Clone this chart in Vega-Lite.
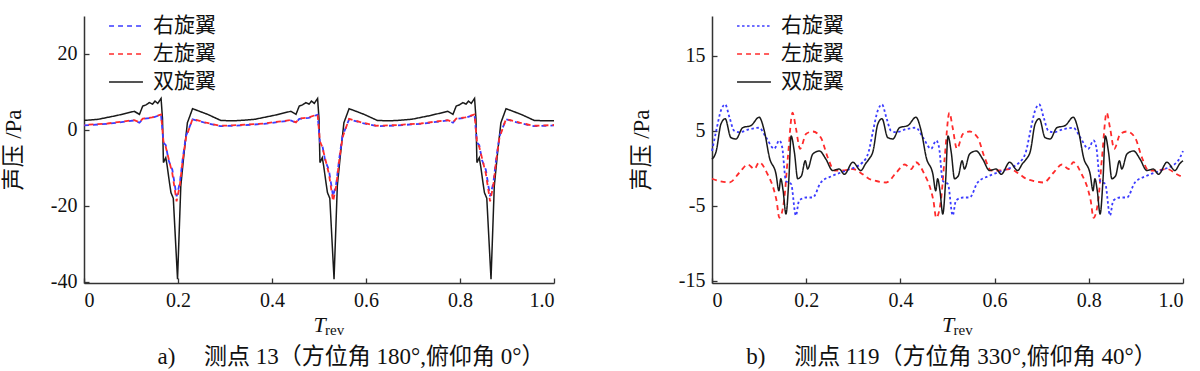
{
"$schema":"https://vega.github.io/schema/vega-lite/v6.json",
"background":"white",
"padding":{"left":2,"top":8,"right":5,"bottom":0},
"bounds":"flush",
"spacing":158,
"config":{
 "view":{"stroke":null},
 "axis":{"grid":false,"domainColor":"#333","domainWidth":1.5,"tickColor":"#333","tickSize":-5,"tickWidth":1.3,"labelFont":"Liberation Serif","labelFontSize":20,"labelColor":"#111","labelPadding":12,"titleFont":"Liberation Serif, Noto Sans CJK SC","titleFontSize":20,"titleFontWeight":"normal","titleColor":"#111"},
 "axisY":{"titlePadding":25,"titleFontSize":23},
 "axisX":{"titlePadding":4},
 "legend":{"orient":"none","legendX":24,"legendY":-8,"labelFont":"Noto Sans CJK SC","labelFontSize":21,"labelColor":"#111","symbolType":"stroke","symbolSize":1150,"symbolStrokeWidth":1.6,"rowPadding":-9,"labelOffset":9},
 "title":{"font":"Liberation Serif, Noto Sans CJK SC","fontSize":23,"fontWeight":"normal","color":"#111","orient":"bottom","offset":8}
},
"datasets":{
"a":[
{"s":"双旋翼","t":0,"p":2.5},{"s":"双旋翼","t":0.03,"p":2.8},{"s":"双旋翼","t":0.07,"p":3.8},{"s":"双旋翼","t":0.107,"p":4.9},{"s":"双旋翼","t":0.118,"p":4.1},{"s":"双旋翼","t":0.125,"p":6.3},{"s":"双旋翼","t":0.132,"p":6.6},{"s":"双旋翼","t":0.139,"p":7.2},{"s":"双旋翼","t":0.146,"p":6.8},{"s":"双旋翼","t":0.151,"p":7.6},{"s":"双旋翼","t":0.157,"p":7.0},{"s":"双旋翼","t":0.164,"p":8.3},{"s":"双旋翼","t":0.167,"p":3.0},{"s":"双旋翼","t":0.169,"p":-8.6},{"s":"双旋翼","t":0.174,"p":-7.3},{"s":"双旋翼","t":0.177,"p":-9.5},{"s":"双旋翼","t":0.182,"p":-14.0},{"s":"双旋翼","t":0.185,"p":-16.5},{"s":"双旋翼","t":0.19,"p":-18.0},{"s":"双旋翼","t":0.199,"p":-39.3},{"s":"双旋翼","t":0.206,"p":-14.7},{"s":"双旋翼","t":0.213,"p":-6.0},{"s":"双旋翼","t":0.22,"p":1.9},{"s":"双旋翼","t":0.231,"p":5.6},{"s":"双旋翼","t":0.263,"p":4.1},{"s":"双旋翼","t":0.291,"p":2.5},{"s":"双旋翼","t":0.315,"p":2.4},
{"s":"双旋翼","t":0.333,"p":2.5},{"s":"双旋翼","t":0.363,"p":2.8},{"s":"双旋翼","t":0.403,"p":3.8},{"s":"双旋翼","t":0.44,"p":4.9},{"s":"双旋翼","t":0.451,"p":4.1},{"s":"双旋翼","t":0.458,"p":6.3},{"s":"双旋翼","t":0.465,"p":6.6},{"s":"双旋翼","t":0.472,"p":7.2},{"s":"双旋翼","t":0.479,"p":6.8},{"s":"双旋翼","t":0.484,"p":7.6},{"s":"双旋翼","t":0.49,"p":7.0},{"s":"双旋翼","t":0.497,"p":8.3},{"s":"双旋翼","t":0.5,"p":3.0},{"s":"双旋翼","t":0.502,"p":-8.6},{"s":"双旋翼","t":0.507,"p":-7.3},{"s":"双旋翼","t":0.51,"p":-9.5},{"s":"双旋翼","t":0.515,"p":-14.0},{"s":"双旋翼","t":0.518,"p":-16.5},{"s":"双旋翼","t":0.523,"p":-18.0},{"s":"双旋翼","t":0.532,"p":-39.3},{"s":"双旋翼","t":0.539,"p":-14.7},{"s":"双旋翼","t":0.546,"p":-6.0},{"s":"双旋翼","t":0.553,"p":1.9},{"s":"双旋翼","t":0.564,"p":5.6},{"s":"双旋翼","t":0.596,"p":4.1},{"s":"双旋翼","t":0.624,"p":2.5},{"s":"双旋翼","t":0.648,"p":2.4},
{"s":"双旋翼","t":0.667,"p":2.5},{"s":"双旋翼","t":0.697,"p":2.8},{"s":"双旋翼","t":0.737,"p":3.8},{"s":"双旋翼","t":0.774,"p":4.9},{"s":"双旋翼","t":0.785,"p":4.1},{"s":"双旋翼","t":0.792,"p":6.3},{"s":"双旋翼","t":0.799,"p":6.6},{"s":"双旋翼","t":0.806,"p":7.2},{"s":"双旋翼","t":0.813,"p":6.8},{"s":"双旋翼","t":0.818,"p":7.6},{"s":"双旋翼","t":0.824,"p":7.0},{"s":"双旋翼","t":0.831,"p":8.3},{"s":"双旋翼","t":0.834,"p":3.0},{"s":"双旋翼","t":0.836,"p":-8.6},{"s":"双旋翼","t":0.841,"p":-7.3},{"s":"双旋翼","t":0.844,"p":-9.5},{"s":"双旋翼","t":0.849,"p":-14.0},{"s":"双旋翼","t":0.852,"p":-16.5},{"s":"双旋翼","t":0.857,"p":-18.0},{"s":"双旋翼","t":0.866,"p":-39.3},{"s":"双旋翼","t":0.873,"p":-14.7},{"s":"双旋翼","t":0.88,"p":-6.0},{"s":"双旋翼","t":0.887,"p":1.9},{"s":"双旋翼","t":0.898,"p":5.6},{"s":"双旋翼","t":0.93,"p":4.1},{"s":"双旋翼","t":0.958,"p":2.5},{"s":"双旋翼","t":0.982,"p":2.4},{"s":"双旋翼","t":1.0,"p":2.4},
{"s":"右旋翼","t":0,"p":1.2},{"s":"右旋翼","t":0.05,"p":1.6},{"s":"右旋翼","t":0.107,"p":2.5},{"s":"右旋翼","t":0.118,"p":1.9},{"s":"右旋翼","t":0.125,"p":2.9},{"s":"右旋翼","t":0.145,"p":3.2},{"s":"右旋翼","t":0.164,"p":4.0},{"s":"右旋翼","t":0.169,"p":-3.3},{"s":"右旋翼","t":0.174,"p":-4.0},{"s":"右旋翼","t":0.18,"p":-8.0},{"s":"右旋翼","t":0.188,"p":-10.5},{"s":"右旋翼","t":0.197,"p":-17.5},{"s":"右旋翼","t":0.204,"p":-13.9},{"s":"右旋翼","t":0.21,"p":-7.6},{"s":"右旋翼","t":0.217,"p":-1.6},{"s":"右旋翼","t":0.231,"p":2.8},{"s":"右旋翼","t":0.26,"p":1.8},{"s":"右旋翼","t":0.29,"p":1.0},{"s":"右旋翼","t":0.315,"p":1.1},
{"s":"右旋翼","t":0.333,"p":1.2},{"s":"右旋翼","t":0.383,"p":1.6},{"s":"右旋翼","t":0.44,"p":2.5},{"s":"右旋翼","t":0.451,"p":1.9},{"s":"右旋翼","t":0.458,"p":2.9},{"s":"右旋翼","t":0.478,"p":3.2},{"s":"右旋翼","t":0.497,"p":4.0},{"s":"右旋翼","t":0.502,"p":-3.3},{"s":"右旋翼","t":0.507,"p":-4.0},{"s":"右旋翼","t":0.513,"p":-8.0},{"s":"右旋翼","t":0.521,"p":-10.5},{"s":"右旋翼","t":0.53,"p":-17.5},{"s":"右旋翼","t":0.537,"p":-13.9},{"s":"右旋翼","t":0.543,"p":-7.6},{"s":"右旋翼","t":0.55,"p":-1.6},{"s":"右旋翼","t":0.564,"p":2.8},{"s":"右旋翼","t":0.593,"p":1.8},{"s":"右旋翼","t":0.623,"p":1.0},{"s":"右旋翼","t":0.648,"p":1.1},
{"s":"右旋翼","t":0.667,"p":1.2},{"s":"右旋翼","t":0.717,"p":1.6},{"s":"右旋翼","t":0.774,"p":2.5},{"s":"右旋翼","t":0.785,"p":1.9},{"s":"右旋翼","t":0.792,"p":2.9},{"s":"右旋翼","t":0.812,"p":3.2},{"s":"右旋翼","t":0.831,"p":4.0},{"s":"右旋翼","t":0.836,"p":-3.3},{"s":"右旋翼","t":0.841,"p":-4.0},{"s":"右旋翼","t":0.847,"p":-8.0},{"s":"右旋翼","t":0.855,"p":-10.5},{"s":"右旋翼","t":0.864,"p":-17.5},{"s":"右旋翼","t":0.871,"p":-13.9},{"s":"右旋翼","t":0.877,"p":-7.6},{"s":"右旋翼","t":0.884,"p":-1.6},{"s":"右旋翼","t":0.898,"p":2.8},{"s":"右旋翼","t":0.927,"p":1.8},{"s":"右旋翼","t":0.957,"p":1.0},{"s":"右旋翼","t":0.982,"p":1.1},{"s":"右旋翼","t":1.0,"p":1.2},
{"s":"左旋翼","t":0,"p":1.3},{"s":"左旋翼","t":0.05,"p":1.7},{"s":"左旋翼","t":0.107,"p":2.6},{"s":"左旋翼","t":0.118,"p":2.0},{"s":"左旋翼","t":0.125,"p":3.0},{"s":"左旋翼","t":0.145,"p":3.3},{"s":"左旋翼","t":0.164,"p":4.1},{"s":"左旋翼","t":0.169,"p":-3.0},{"s":"左旋翼","t":0.174,"p":-4.5},{"s":"左旋翼","t":0.18,"p":-7.5},{"s":"左旋翼","t":0.188,"p":-11.5},{"s":"左旋翼","t":0.197,"p":-18.8},{"s":"左旋翼","t":0.204,"p":-14.5},{"s":"左旋翼","t":0.21,"p":-8.0},{"s":"左旋翼","t":0.217,"p":-2.0},{"s":"左旋翼","t":0.231,"p":2.9},{"s":"左旋翼","t":0.26,"p":1.9},{"s":"左旋翼","t":0.29,"p":1.1},{"s":"左旋翼","t":0.315,"p":1.2},
{"s":"左旋翼","t":0.333,"p":1.3},{"s":"左旋翼","t":0.383,"p":1.7},{"s":"左旋翼","t":0.44,"p":2.6},{"s":"左旋翼","t":0.451,"p":2.0},{"s":"左旋翼","t":0.458,"p":3.0},{"s":"左旋翼","t":0.478,"p":3.3},{"s":"左旋翼","t":0.497,"p":4.1},{"s":"左旋翼","t":0.502,"p":-3.0},{"s":"左旋翼","t":0.507,"p":-4.5},{"s":"左旋翼","t":0.513,"p":-7.5},{"s":"左旋翼","t":0.521,"p":-11.5},{"s":"左旋翼","t":0.53,"p":-18.8},{"s":"左旋翼","t":0.537,"p":-14.5},{"s":"左旋翼","t":0.543,"p":-8.0},{"s":"左旋翼","t":0.55,"p":-2.0},{"s":"左旋翼","t":0.564,"p":2.9},{"s":"左旋翼","t":0.593,"p":1.9},{"s":"左旋翼","t":0.623,"p":1.1},{"s":"左旋翼","t":0.648,"p":1.2},
{"s":"左旋翼","t":0.667,"p":1.3},{"s":"左旋翼","t":0.717,"p":1.7},{"s":"左旋翼","t":0.774,"p":2.6},{"s":"左旋翼","t":0.785,"p":2.0},{"s":"左旋翼","t":0.792,"p":3.0},{"s":"左旋翼","t":0.812,"p":3.3},{"s":"左旋翼","t":0.831,"p":4.1},{"s":"左旋翼","t":0.836,"p":-3.0},{"s":"左旋翼","t":0.841,"p":-4.5},{"s":"左旋翼","t":0.847,"p":-7.5},{"s":"左旋翼","t":0.855,"p":-11.5},{"s":"左旋翼","t":0.864,"p":-18.8},{"s":"左旋翼","t":0.871,"p":-14.5},{"s":"左旋翼","t":0.877,"p":-8.0},{"s":"左旋翼","t":0.884,"p":-2.0},{"s":"左旋翼","t":0.898,"p":2.9},{"s":"左旋翼","t":0.927,"p":1.9},{"s":"左旋翼","t":0.957,"p":1.1},{"s":"左旋翼","t":0.982,"p":1.2},{"s":"左旋翼","t":1.0,"p":1.3}
],
"b":[
{"s":"双旋翼","t":0,"p":1.2},{"s":"双旋翼","t":0.009,"p":2.3},{"s":"双旋翼","t":0.019,"p":5.9},{"s":"双旋翼","t":0.028,"p":6.6},{"s":"双旋翼","t":0.04,"p":4.1},{"s":"双旋翼","t":0.051,"p":3.9},{"s":"双旋翼","t":0.065,"p":5.4},{"s":"双旋翼","t":0.083,"p":5.7},{"s":"双旋翼","t":0.1,"p":6.8},{"s":"双旋翼","t":0.111,"p":5.0},{"s":"双旋翼","t":0.122,"p":1.4},{"s":"双旋翼","t":0.136,"p":-0.8},{"s":"双旋翼","t":0.142,"p":-3.0},{"s":"双旋翼","t":0.146,"p":-1.4},{"s":"双旋翼","t":0.151,"p":-3.0},{"s":"双旋翼","t":0.157,"p":-6.1},{"s":"双旋翼","t":0.163,"p":-1.7},{"s":"双旋翼","t":0.168,"p":4.3},{"s":"双旋翼","t":0.175,"p":2.1},{"s":"双旋翼","t":0.182,"p":-1.4},{"s":"双旋翼","t":0.19,"p":-1.0},{"s":"双旋翼","t":0.198,"p":1.0},{"s":"双旋翼","t":0.203,"p":-0.1},{"s":"双旋翼","t":0.214,"p":1.9},{"s":"双旋翼","t":0.228,"p":2.3},{"s":"双旋翼","t":0.242,"p":1.2},{"s":"双旋翼","t":0.256,"p":-0.3},{"s":"双旋翼","t":0.27,"p":-0.1},{"s":"双旋翼","t":0.281,"p":-0.8},{"s":"双旋翼","t":0.299,"p":0.8},{"s":"双旋翼","t":0.316,"p":-0.3},{"s":"双旋翼","t":0.326,"p":0.6},
{"s":"双旋翼","t":0.333,"p":1.2},{"s":"双旋翼","t":0.342,"p":2.3},{"s":"双旋翼","t":0.352,"p":5.9},{"s":"双旋翼","t":0.361,"p":6.6},{"s":"双旋翼","t":0.373,"p":4.1},{"s":"双旋翼","t":0.384,"p":3.9},{"s":"双旋翼","t":0.398,"p":5.4},{"s":"双旋翼","t":0.416,"p":5.7},{"s":"双旋翼","t":0.433,"p":6.8},{"s":"双旋翼","t":0.444,"p":5.0},{"s":"双旋翼","t":0.455,"p":1.4},{"s":"双旋翼","t":0.469,"p":-0.8},{"s":"双旋翼","t":0.475,"p":-3.0},{"s":"双旋翼","t":0.479,"p":-1.4},{"s":"双旋翼","t":0.484,"p":-3.0},{"s":"双旋翼","t":0.49,"p":-6.1},{"s":"双旋翼","t":0.496,"p":-1.7},{"s":"双旋翼","t":0.501,"p":4.3},{"s":"双旋翼","t":0.508,"p":2.1},{"s":"双旋翼","t":0.515,"p":-1.4},{"s":"双旋翼","t":0.523,"p":-1.0},{"s":"双旋翼","t":0.531,"p":1.0},{"s":"双旋翼","t":0.536,"p":-0.1},{"s":"双旋翼","t":0.547,"p":1.9},{"s":"双旋翼","t":0.561,"p":2.3},{"s":"双旋翼","t":0.575,"p":1.2},{"s":"双旋翼","t":0.589,"p":-0.3},{"s":"双旋翼","t":0.603,"p":-0.1},{"s":"双旋翼","t":0.614,"p":-0.8},{"s":"双旋翼","t":0.632,"p":0.8},{"s":"双旋翼","t":0.649,"p":-0.3},{"s":"双旋翼","t":0.659,"p":0.6},
{"s":"双旋翼","t":0.667,"p":1.2},{"s":"双旋翼","t":0.676,"p":2.3},{"s":"双旋翼","t":0.686,"p":5.9},{"s":"双旋翼","t":0.695,"p":6.6},{"s":"双旋翼","t":0.707,"p":4.1},{"s":"双旋翼","t":0.718,"p":3.9},{"s":"双旋翼","t":0.732,"p":5.4},{"s":"双旋翼","t":0.75,"p":5.7},{"s":"双旋翼","t":0.767,"p":6.8},{"s":"双旋翼","t":0.778,"p":5.0},{"s":"双旋翼","t":0.789,"p":1.4},{"s":"双旋翼","t":0.803,"p":-0.8},{"s":"双旋翼","t":0.809,"p":-3.0},{"s":"双旋翼","t":0.813,"p":-1.4},{"s":"双旋翼","t":0.818,"p":-3.0},{"s":"双旋翼","t":0.824,"p":-6.1},{"s":"双旋翼","t":0.83,"p":-1.7},{"s":"双旋翼","t":0.835,"p":4.3},{"s":"双旋翼","t":0.842,"p":2.1},{"s":"双旋翼","t":0.849,"p":-1.4},{"s":"双旋翼","t":0.857,"p":-1.0},{"s":"双旋翼","t":0.865,"p":1.0},{"s":"双旋翼","t":0.87,"p":-0.1},{"s":"双旋翼","t":0.881,"p":1.9},{"s":"双旋翼","t":0.895,"p":2.3},{"s":"双旋翼","t":0.909,"p":1.2},{"s":"双旋翼","t":0.923,"p":-0.3},{"s":"双旋翼","t":0.937,"p":-0.1},{"s":"双旋翼","t":0.948,"p":-0.8},{"s":"双旋翼","t":0.966,"p":0.8},{"s":"双旋翼","t":0.983,"p":-0.3},{"s":"双旋翼","t":0.993,"p":0.6},{"s":"双旋翼","t":1.0,"p":1.0},
{"s":"右旋翼","t":0,"p":2.3},{"s":"右旋翼","t":0.009,"p":5.0},{"s":"右旋翼","t":0.019,"p":7.7},{"s":"右旋翼","t":0.028,"p":8.5},{"s":"右旋翼","t":0.037,"p":6.8},{"s":"右旋翼","t":0.047,"p":5.0},{"s":"右旋翼","t":0.058,"p":4.8},{"s":"右旋翼","t":0.079,"p":5.2},{"s":"右旋翼","t":0.1,"p":5.4},{"s":"右旋翼","t":0.115,"p":4.1},{"s":"右旋翼","t":0.132,"p":2.6},{"s":"右旋翼","t":0.143,"p":3.7},{"s":"右旋翼","t":0.149,"p":2.8},{"s":"右旋翼","t":0.157,"p":-1.7},{"s":"右旋翼","t":0.168,"p":-2.1},{"s":"右旋翼","t":0.178,"p":-6.3},{"s":"右旋翼","t":0.185,"p":-4.3},{"s":"右旋翼","t":0.2,"p":-3.9},{"s":"右旋翼","t":0.214,"p":-3.9},{"s":"右旋翼","t":0.231,"p":-1.9},{"s":"右旋翼","t":0.256,"p":-1.0},{"s":"右旋翼","t":0.285,"p":-0.3},{"s":"右旋翼","t":0.32,"p":0.8},
{"s":"右旋翼","t":0.333,"p":2.3},{"s":"右旋翼","t":0.342,"p":5.0},{"s":"右旋翼","t":0.352,"p":7.7},{"s":"右旋翼","t":0.361,"p":8.5},{"s":"右旋翼","t":0.37,"p":6.8},{"s":"右旋翼","t":0.38,"p":5.0},{"s":"右旋翼","t":0.391,"p":4.8},{"s":"右旋翼","t":0.412,"p":5.2},{"s":"右旋翼","t":0.433,"p":5.4},{"s":"右旋翼","t":0.448,"p":4.1},{"s":"右旋翼","t":0.465,"p":2.6},{"s":"右旋翼","t":0.476,"p":3.7},{"s":"右旋翼","t":0.482,"p":2.8},{"s":"右旋翼","t":0.49,"p":-1.7},{"s":"右旋翼","t":0.501,"p":-2.1},{"s":"右旋翼","t":0.511,"p":-6.3},{"s":"右旋翼","t":0.518,"p":-4.3},{"s":"右旋翼","t":0.533,"p":-3.9},{"s":"右旋翼","t":0.547,"p":-3.9},{"s":"右旋翼","t":0.564,"p":-1.9},{"s":"右旋翼","t":0.589,"p":-1.0},{"s":"右旋翼","t":0.618,"p":-0.3},{"s":"右旋翼","t":0.653,"p":0.8},
{"s":"右旋翼","t":0.667,"p":2.3},{"s":"右旋翼","t":0.676,"p":5.0},{"s":"右旋翼","t":0.686,"p":7.7},{"s":"右旋翼","t":0.695,"p":8.5},{"s":"右旋翼","t":0.704,"p":6.8},{"s":"右旋翼","t":0.714,"p":5.0},{"s":"右旋翼","t":0.725,"p":4.8},{"s":"右旋翼","t":0.746,"p":5.2},{"s":"右旋翼","t":0.767,"p":5.4},{"s":"右旋翼","t":0.782,"p":4.1},{"s":"右旋翼","t":0.799,"p":2.6},{"s":"右旋翼","t":0.81,"p":3.7},{"s":"右旋翼","t":0.816,"p":2.8},{"s":"右旋翼","t":0.824,"p":-1.7},{"s":"右旋翼","t":0.835,"p":-2.1},{"s":"右旋翼","t":0.845,"p":-6.3},{"s":"右旋翼","t":0.852,"p":-4.3},{"s":"右旋翼","t":0.867,"p":-3.9},{"s":"右旋翼","t":0.881,"p":-3.9},{"s":"右旋翼","t":0.898,"p":-1.9},{"s":"右旋翼","t":0.923,"p":-1.0},{"s":"右旋翼","t":0.952,"p":-0.3},{"s":"右旋翼","t":0.987,"p":0.8},{"s":"右旋翼","t":1.0,"p":2.3},
{"s":"左旋翼","t":0,"p":-1.4},{"s":"左旋翼","t":0.016,"p":-1.7},{"s":"左旋翼","t":0.037,"p":-1.9},{"s":"左旋翼","t":0.058,"p":-0.6},{"s":"左旋翼","t":0.076,"p":0.5},{"s":"左旋翼","t":0.09,"p":-0.1},{"s":"左旋翼","t":0.1,"p":0.8},{"s":"左旋翼","t":0.118,"p":-0.8},{"s":"左旋翼","t":0.132,"p":-3.0},{"s":"左旋翼","t":0.137,"p":-4.3},{"s":"左旋翼","t":0.143,"p":-6.6},{"s":"左旋翼","t":0.153,"p":-4.3},{"s":"左旋翼","t":0.161,"p":1.4},{"s":"左旋翼","t":0.171,"p":7.4},{"s":"左旋翼","t":0.178,"p":5.4},{"s":"左旋翼","t":0.187,"p":2.6},{"s":"左旋翼","t":0.2,"p":4.6},{"s":"左旋翼","t":0.214,"p":4.9},{"s":"左旋翼","t":0.231,"p":4.1},{"s":"左旋翼","t":0.246,"p":1.4},{"s":"左旋翼","t":0.26,"p":-0.3},{"s":"左旋翼","t":0.277,"p":-0.3},{"s":"左旋翼","t":0.299,"p":-0.1},{"s":"左旋翼","t":0.32,"p":-0.8},
{"s":"左旋翼","t":0.333,"p":-1.4},{"s":"左旋翼","t":0.349,"p":-1.7},{"s":"左旋翼","t":0.37,"p":-1.9},{"s":"左旋翼","t":0.391,"p":-0.6},{"s":"左旋翼","t":0.409,"p":0.5},{"s":"左旋翼","t":0.423,"p":-0.1},{"s":"左旋翼","t":0.433,"p":0.8},{"s":"左旋翼","t":0.451,"p":-0.8},{"s":"左旋翼","t":0.465,"p":-3.0},{"s":"左旋翼","t":0.47,"p":-4.3},{"s":"左旋翼","t":0.476,"p":-6.6},{"s":"左旋翼","t":0.486,"p":-4.3},{"s":"左旋翼","t":0.494,"p":1.4},{"s":"左旋翼","t":0.504,"p":7.4},{"s":"左旋翼","t":0.511,"p":5.4},{"s":"左旋翼","t":0.52,"p":2.6},{"s":"左旋翼","t":0.533,"p":4.6},{"s":"左旋翼","t":0.547,"p":4.9},{"s":"左旋翼","t":0.564,"p":4.1},{"s":"左旋翼","t":0.579,"p":1.4},{"s":"左旋翼","t":0.593,"p":-0.3},{"s":"左旋翼","t":0.61,"p":-0.3},{"s":"左旋翼","t":0.632,"p":-0.1},{"s":"左旋翼","t":0.653,"p":-0.8},
{"s":"左旋翼","t":0.667,"p":-1.4},{"s":"左旋翼","t":0.683,"p":-1.7},{"s":"左旋翼","t":0.704,"p":-1.9},{"s":"左旋翼","t":0.725,"p":-0.6},{"s":"左旋翼","t":0.743,"p":0.5},{"s":"左旋翼","t":0.757,"p":-0.1},{"s":"左旋翼","t":0.767,"p":0.8},{"s":"左旋翼","t":0.785,"p":-0.8},{"s":"左旋翼","t":0.799,"p":-3.0},{"s":"左旋翼","t":0.804,"p":-4.3},{"s":"左旋翼","t":0.81,"p":-6.6},{"s":"左旋翼","t":0.82,"p":-4.3},{"s":"左旋翼","t":0.828,"p":1.4},{"s":"左旋翼","t":0.838,"p":7.4},{"s":"左旋翼","t":0.845,"p":5.4},{"s":"左旋翼","t":0.854,"p":2.6},{"s":"左旋翼","t":0.867,"p":4.6},{"s":"左旋翼","t":0.881,"p":4.9},{"s":"左旋翼","t":0.898,"p":4.1},{"s":"左旋翼","t":0.913,"p":1.4},{"s":"左旋翼","t":0.927,"p":-0.3},{"s":"左旋翼","t":0.944,"p":-0.3},{"s":"左旋翼","t":0.966,"p":-0.1},{"s":"左旋翼","t":0.987,"p":-0.8},{"s":"左旋翼","t":1.0,"p":-1.2}
]
},
"hconcat":[
{
 "width":470,"height":267,
 "title":{"text":"a)　  测点 13（方位角 180°,俯仰角 0°）","dx":32},
 "layer":[
  {
   "data":{"name":"a"},
   "encoding":{
    "x":{"field":"t","type":"quantitative","scale":{"domain":[0,1],"nice":false},"axis":{"values":[0,0.2,0.4,0.6,0.8,1],"labelExpr":"datum.value==0?'0':format(datum.value,'.1f')","title":"T","titleFontStyle":"italic","titleFontSize":22}},
    "y":{"field":"p","type":"quantitative","scale":{"domain":[-40.3,30],"nice":false},"axis":{"values":[-40,-20,0,20],"labelExpr":"''+datum.value","title":"声压 /Pa"}},
    "color":{"field":"s","type":"nominal","title":null,"sort":["右旋翼","左旋翼","双旋翼"],"scale":{"domain":["右旋翼","左旋翼","双旋翼"],"range":["#3b3bff","#ff2b2b","#1a1a1a"]}},
    "strokeDash":{"field":"s","type":"nominal","title":null,"sort":["右旋翼","左旋翼","双旋翼"],"scale":{"domain":["右旋翼","左旋翼","双旋翼"],"range":[[5,4],[5,4],[1,0]]}}
   },
   "layer":[
    {"transform":[{"filter":"datum.s=='双旋翼'"}],"mark":{"type":"line","strokeWidth":1.5}},
    {"transform":[{"filter":"datum.s=='右旋翼'"}],"mark":{"type":"line","strokeWidth":1.8}},
    {"transform":[{"filter":"datum.s=='左旋翼'"}],"mark":{"type":"line","strokeWidth":1.8,"strokeDashOffset":4.5}}
   ]
  },
  {"data":{"values":[{"sub":"rev"}]},"mark":{"type":"text","font":"Liberation Serif","fontSize":15,"align":"left","baseline":"middle","dy":47,"color":"#111"},"encoding":{"x":{"datum":0.513},"y":{"datum":-40.3},"text":{"field":"sub"}}}
 ]
},
{
 "width":471,"height":267,
 "title":{"text":"b)　  测点 119（方位角 330°,俯仰角 40°）","dx":4},
 "layer":[
  {
   "data":{"name":"b"},
   "encoding":{
    "x":{"field":"t","type":"quantitative","scale":{"domain":[0,1],"nice":false},"axis":{"values":[0,0.2,0.4,0.6,0.8,1],"labelExpr":"datum.value==0?'0':format(datum.value,'.1f')","title":"T","titleFontStyle":"italic","titleFontSize":22}},
    "y":{"field":"p","type":"quantitative","scale":{"domain":[-15.3,20.3],"nice":false},"axis":{"values":[-15,-5,5,15],"labelExpr":"''+datum.value","title":"声压 /Pa"}},
    "color":{"field":"s","type":"nominal","title":null,"sort":["右旋翼","左旋翼","双旋翼"],"scale":{"domain":["右旋翼","左旋翼","双旋翼"],"range":["#3b3bff","#ff2b2b","#1a1a1a"]}},
    "strokeDash":{"field":"s","type":"nominal","title":null,"sort":["右旋翼","左旋翼","双旋翼"],"scale":{"domain":["右旋翼","左旋翼","双旋翼"],"range":[[2.5,2.5],[5,4],[1,0]]}}
   },
   "layer":[
    {"transform":[{"filter":"datum.s=='左旋翼'"}],"mark":{"type":"line","strokeWidth":1.8,"interpolate":"monotone"}},
    {"transform":[{"filter":"datum.s=='右旋翼'"}],"mark":{"type":"line","strokeWidth":1.8,"interpolate":"monotone"}},
    {"transform":[{"filter":"datum.s=='双旋翼'"}],"mark":{"type":"line","strokeWidth":1.5,"interpolate":"monotone"}}
   ]
  },
  {"data":{"values":[{"sub":"rev"}]},"mark":{"type":"text","font":"Liberation Serif","fontSize":15,"align":"left","baseline":"middle","dy":47,"color":"#111"},"encoding":{"x":{"datum":0.513},"y":{"datum":-15.3},"text":{"field":"sub"}}}
 ]
}
],
"resolve":{"scale":{"color":"independent","strokeDash":"independent"}}
}
